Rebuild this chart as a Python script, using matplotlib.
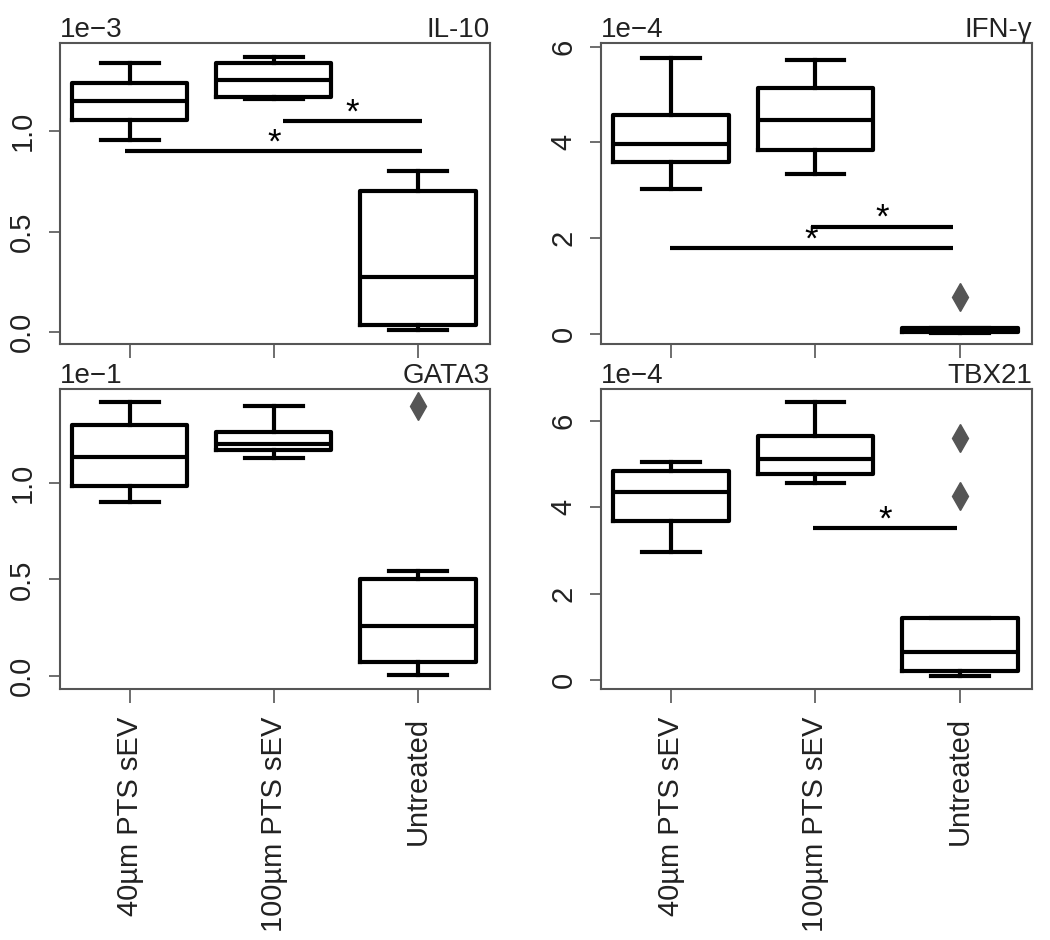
import matplotlib
matplotlib.use("Agg")
import matplotlib.pyplot as plt

plt.rcParams['font.family'] = ['Liberation Sans', 'DejaVu Sans']

groups = ['40µm PTS sEV', '100µm PTS sEV', 'Untreated']

# IL-10 (x1e-3)
il10_whislo = [0.955, 1.16, 0.01]
il10_q1 = [1.055, 1.17, 0.035]
il10_med = [1.15, 1.254, 0.274]
il10_q3 = [1.24, 1.338, 0.70]
il10_whishi = [1.338, 1.368, 0.80]
il10_fliers = [[], [], []]
il10_sig_x1 = [2.06, 0.97]
il10_sig_x2 = [3.03, 3.03]
il10_sig_y = [1.05, 0.90]

# IFN-gamma (x1e-4)
ifng_whislo = [3.03, 3.34, 0.03]
ifng_q1 = [3.59, 3.85, 0.05]
ifng_med = [3.97, 4.47, 0.08]
ifng_q3 = [4.58, 5.14, 0.12]
ifng_whishi = [5.77, 5.71, 0.12]
ifng_fliers = [[], [], [0.77]]
ifng_sig_x1 = [1.97, 0.99]
ifng_sig_x2 = [2.95, 2.95]
ifng_sig_y = [2.24, 1.80]

# GATA3 (x1e-1)
gata3_whislo = [0.90, 1.128, 0.005]
gata3_q1 = [0.983, 1.17, 0.073]
gata3_med = [1.133, 1.20, 0.26]
gata3_q3 = [1.30, 1.264, 0.50]
gata3_whishi = [1.417, 1.40, 0.543]
gata3_fliers = [[], [], [1.40]]
gata3_sig_x1 = []
gata3_sig_x2 = []
gata3_sig_y = []

# TBX21 (x1e-4)
tbx21_whislo = [2.96, 4.55, 0.09]
tbx21_q1 = [3.68, 4.76, 0.21]
tbx21_med = [4.35, 5.11, 0.65]
tbx21_q3 = [4.83, 5.64, 1.43]
tbx21_whishi = [5.04, 6.43, 1.43]
tbx21_fliers = [[], [], [5.60, 4.25]]
tbx21_sig_x1 = [1.98]
tbx21_sig_x2 = [2.98]
tbx21_sig_y = [3.51]

LW = 3.0
FRAME = '#555555'
TXT = '#222222'


def make_stats(whislo, q1, med, q3, whishi, fliers):
    stats = []
    for i in range(len(groups)):
        stats.append(dict(whislo=whislo[i], q1=q1[i], med=med[i], q3=q3[i],
                          whishi=whishi[i], fliers=fliers[i]))
    return stats


def draw_panel(rect, stats, sig_x1, sig_x2, sig_y, exp_label, gene, ylim, yticks, yticklabels, show_x):
    ax = fig.add_axes(rect)
    line = dict(color='black', linewidth=LW)
    ax.bxp(stats, positions=[1, 2, 3], widths=0.8, showfliers=True,
           boxprops=line, whiskerprops=line, capprops=line, medianprops=line,
           capwidths=0.4,
           flierprops=dict(marker='d', markersize=14, markerfacecolor='#555555',
                           markeredgecolor='#555555'))
    # significance bars
    for x1, x2, y in zip(sig_x1, sig_x2, sig_y):
        ax.plot([x1, x2], [y, y], color='black', linewidth=LW, solid_capstyle='butt')
        ax.annotate('*', ((x1 + x2) / 2, y), xytext=(0, -1), textcoords='offset points',
                    ha='center', va='baseline', fontsize=25, color='black')
    ax.set_xlim(0.515, 3.5)
    ax.set_ylim(*ylim)
    ax.set_yticks(yticks)
    ax.set_yticklabels(yticklabels, rotation=90, va='center', fontsize=21, color=TXT)
    ax.set_xticks([1, 2, 3])
    if show_x:
        ax.set_xticklabels(groups, rotation=90, fontsize=21, color=TXT)
    else:
        ax.set_xticklabels([])
    ax.tick_params(axis='y', length=8, width=1.2, color=FRAME, pad=9)
    ax.tick_params(axis='x', length=10, width=1.2, color=FRAME, pad=10)
    for sp in ax.spines.values():
        sp.set_color(FRAME)
        sp.set_linewidth(1.5)
    ax.set_title(exp_label, loc='left', fontsize=20, color=TXT, pad=4)
    ax.set_title(gene, loc='right', fontsize=20, color=TXT, pad=4)
    return ax


fig = plt.figure(figsize=(10.5, 9.4), dpi=100)

draw_panel([0.0571, 0.634, 0.4095, 0.320],
           make_stats(il10_whislo, il10_q1, il10_med, il10_q3, il10_whishi, il10_fliers),
           il10_sig_x1, il10_sig_x2, il10_sig_y, '1e\u22123', 'IL-10',
           (-0.06, 1.438), [0.0, 0.5, 1.0], ['0.0', '0.5', '1.0'], False)

draw_panel([0.5724, 0.634, 0.4105, 0.320],
           make_stats(ifng_whislo, ifng_q1, ifng_med, ifng_q3, ifng_whishi, ifng_fliers),
           ifng_sig_x1, ifng_sig_x2, ifng_sig_y, '1e\u22124', 'IFN-\u03b3',
           (-0.21, 6.07), [0, 2, 4, 6], ['0', '2', '4', '6'], False)

draw_panel([0.0571, 0.267, 0.4095, 0.319],
           make_stats(gata3_whislo, gata3_q1, gata3_med, gata3_q3, gata3_whishi, gata3_fliers),
           gata3_sig_x1, gata3_sig_x2, gata3_sig_y, '1e\u22121', 'GATA3',
           (-0.067, 1.485), [0.0, 0.5, 1.0], ['0.0', '0.5', '1.0'], True)

draw_panel([0.5724, 0.267, 0.4105, 0.319],
           make_stats(tbx21_whislo, tbx21_q1, tbx21_med, tbx21_q3, tbx21_whishi, tbx21_fliers),
           tbx21_sig_x1, tbx21_sig_x2, tbx21_sig_y, '1e\u22124', 'TBX21',
           (-0.21, 6.73), [0, 2, 4, 6], ['0', '2', '4', '6'], True)

fig.savefig('out.png', dpi=100, facecolor='white')
